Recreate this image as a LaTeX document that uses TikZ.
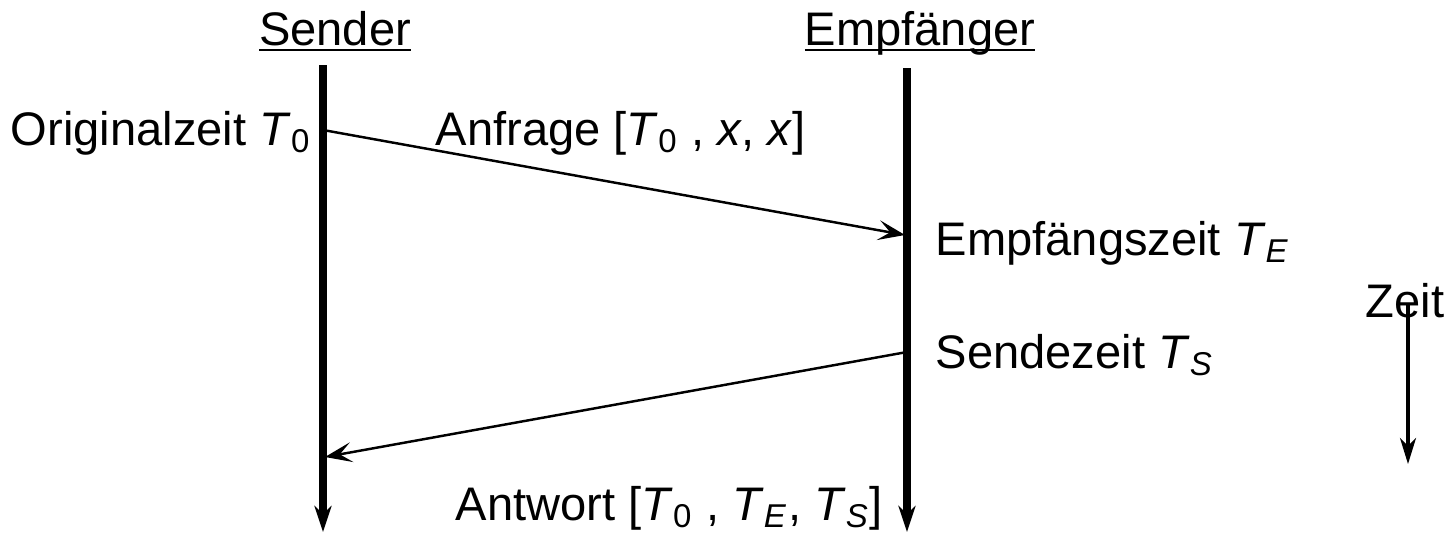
\documentclass[tikz,border=0pt]{standalone}
\usepackage{fontspec}
\setmainfont{Liberation Sans}
\usetikzlibrary{arrows.meta, positioning}
\tikzset{
	lifeline/.style={
			line width=2.2pt,
			-{Stealth[length=2.6mm, width=1.7mm, inset=0.8mm]}
		},
	message/.style={
			line width=0.7pt,
			-{Stealth[length=2.7mm, width=2mm, inset=1.2mm]}
		},
	plaintext/.style={
			font=\fontsize{13.4}{16}\selectfont,
			inner sep=0pt
		}
}
\newcommand{\tsub}[1]{\textit{T}\textsubscript{\textit{#1}}}
\newcommand{\tnull}{\textit{T}\textsubscript{0}}
\newcommand{\headline}[1]{\underline{\smash{#1}}}

\begin{document}
\begin{tikzpicture}
        \useasboundingbox (0,0) rectangle (14.52,5.33);

        % lifelines
        \coordinate (stop) at (3.23,4.68);
        \coordinate (sbot) at (3.23,0.01);
        \coordinate (etop) at (9.07,4.65);
        \coordinate (ebot) at (9.07,0.01);

        \node[plaintext, anchor=base] at (3.35,4.88) (sender) {\headline{Sender}};
        \node[plaintext, anchor=base] at (9.20,4.88) (empf) {\headline{Empfänger}};

        \draw[lifeline] (stop) -- (sbot);
        \draw[lifeline] (etop) -- (ebot);

        % times on the lines
        \coordinate (t0) at (3.23,4.03);
        \coordinate (te) at (9.05,2.98);
        \coordinate (ts) at (9.07,1.81);
        \coordinate (ta) at (3.25,0.76);

        \node[plaintext, anchor=base east] at (3.12,3.88) (orig) {Originalzeit \tnull};
        \node[plaintext, anchor=base west] at (4.35,3.88) (anfrage) {Anfrage [\tnull\ , \textit{x}, \textit{x}]};
        \node[plaintext, anchor=base west] at (9.35,2.78) (empfzeit) {Empfängszeit \tsub{E}};
        \node[plaintext, anchor=base west] at (9.35,1.65) (sendezeit) {Sendezeit \tsub{S}};
        \node[plaintext, anchor=base west] at (4.55,0.13) (antwort) {Antwort [\tnull\ , \tsub{E}, \tsub{S}]};

        \draw[message] (t0) -- (te);
        \draw[message] (ts) -- (ta);

        % time direction
        \node[plaintext, anchor=base] at (14.05,2.16) (zeit) {Zeit};
        \coordinate (ztop) at (14.08,2.28);
        \coordinate (zend) at (14.08,0.69);
        \draw[message, line width=0.9pt, -{Stealth[length=2.6mm, width=1.6mm, inset=0.8mm]}] (ztop) -- (zend);
      \end{tikzpicture}
\end{document}
